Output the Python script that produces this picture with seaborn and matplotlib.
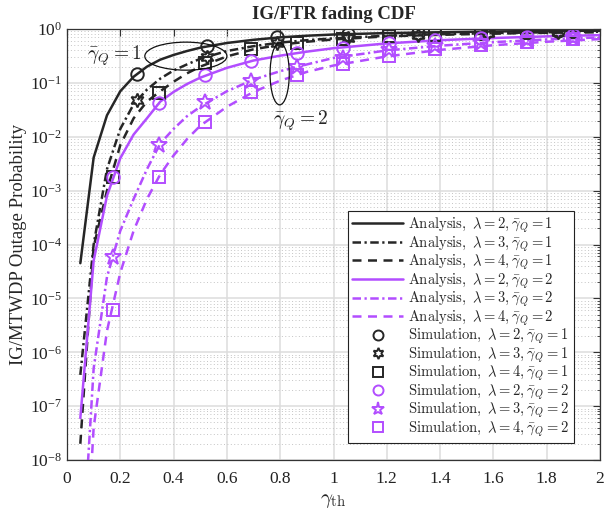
import numpy as np
import pandas as pd
import matplotlib
matplotlib.use("Agg")
import matplotlib.pyplot as plt
import seaborn as sns
from matplotlib.lines import Line2D
from matplotlib.patches import Ellipse
from matplotlib.ticker import FuncFormatter, LogLocator, FixedLocator

# ---------------- data ----------------
x_ana = [0.05, 0.1, 0.15, 0.2, 0.25, 0.3, 0.35, 0.4, 0.45, 0.5,
         0.6, 0.7, 0.8, 0.9, 1.0, 1.2, 1.4, 1.6, 1.8, 2.0]
ana_l2_q1 = [4.5e-5, 4.1e-3, 0.025, 0.07, 0.13, 0.2, 0.27, 0.33, 0.39, 0.45,
             0.55, 0.63, 0.7, 0.75, 0.79, 0.84, 0.87, 0.9, 0.92, 0.93]
ana_l3_q1 = [3.8e-7, 1e-4, 2.5e-3, 0.014, 0.04, 0.075, 0.12, 0.17, 0.22, 0.28,
             0.39, 0.48, 0.56, 0.62, 0.67, 0.75, 0.8, 0.84, 0.87, 0.89]
ana_l4_q1 = [2e-8, 9e-5, 1e-3, 7e-3, 0.022, 0.045, 0.07, 0.105, 0.15, 0.2,
             0.31, 0.42, 0.51, 0.58, 0.64, 0.73, 0.78, 0.82, 0.85, 0.87]
ana_l2_q2 = [6e-8, 5e-5, 8e-4, 4e-3, 0.011, 0.022, 0.045, 0.068, 0.095, 0.125,
             0.19, 0.26, 0.32, 0.38, 0.44, 0.54, 0.62, 0.68, 0.73, 0.77]
ana_l3_q2 = [4e-11, 5e-7, 2.5e-5, 1.8e-4, 7e-4, 2.5e-3, 7.5e-3, 0.014, 0.024, 0.036,
             0.07, 0.115, 0.165, 0.22, 0.29, 0.4, 0.49, 0.57, 0.64, 0.7]
ana_l4_q2 = [2e-12, 4e-8, 2.5e-6, 3e-5, 1.8e-4, 7e-4, 2e-3, 4.5e-3, 9e-3, 0.016,
             0.036, 0.068, 0.11, 0.16, 0.21, 0.31, 0.41, 0.5, 0.58, 0.65]

sim_x_coarse = [0.263, 0.526, 0.789, 1.053, 1.316, 1.579, 1.842]
sim_x_fine = [0.173, 0.345, 0.518, 0.69, 0.863, 1.036, 1.208, 1.381, 1.553, 1.726, 1.9]
sim_l2_q1 = [0.146, 0.48, 0.7, 0.8, 0.86, 0.9, 0.92]
sim_l3_q1 = [0.048, 0.3, 0.55, 0.69, 0.78, 0.84, 0.87]
sim_l4_q1 = [1.8e-3, 0.066, 0.23, 0.43, 0.56, 0.65, 0.73, 0.78, 0.82, 0.85, 0.87]
sim_l2_q2 = [1.8e-3, 0.043, 0.14, 0.26, 0.36, 0.45, 0.54, 0.62, 0.67, 0.72, 0.76]
sim_l3_q2 = [5.8e-5, 7e-3, 0.044, 0.11, 0.2, 0.29, 0.4, 0.49, 0.56, 0.63, 0.69]
sim_l4_q2 = [6e-6, 1.8e-3, 0.019, 0.068, 0.14, 0.22, 0.32, 0.42, 0.5, 0.57, 0.64]

x_ticks = [0, 0.2, 0.4, 0.6, 0.8, 1.0, 1.2, 1.4, 1.6, 1.8, 2.0]

# ---------------- style ----------------
sns.set_theme(style="white")
plt.rcParams["font.family"] = ["Liberation Serif", "DejaVu Serif"]
plt.rcParams["mathtext.fontset"] = "cm"
plt.rcParams["axes.unicode_minus"] = False

BLACK = "#262626"
PURPLE = "#B24DFF"
LW = 1.8
SOLID = "-"
DASHDOT = (0, (3.4, 1.4, 0.9, 1.4))
DASHED = (0, (3.6, 2.6))

fig = plt.figure(figsize=(6.05, 5.14), dpi=100)
ax = fig.add_axes([67 / 605, 1 - 460 / 514, 533 / 605, 431 / 514])
ax.set_yscale("log")

ana = [
    (ana_l2_q1, BLACK, SOLID, 2, 1),
    (ana_l3_q1, BLACK, DASHDOT, 3, 1),
    (ana_l4_q1, BLACK, DASHED, 4, 1),
    (ana_l2_q2, PURPLE, SOLID, 2, 2),
    (ana_l3_q2, PURPLE, DASHDOT, 3, 2),
    (ana_l4_q2, PURPLE, DASHED, 4, 2),
]
handles = []
for ys, c, ls, lam, q in ana:
    df = pd.DataFrame({"x": x_ana, "y": ys})
    sns.lineplot(data=df, x="x", y="y", ax=ax, color=c, linewidth=LW,
                 linestyle=ls, estimator=None, sort=False)
    handles.append((Line2D([], [], color=c, lw=LW, linestyle=ls),
                    r"$\mathrm{Analysis,}\ \lambda = %d, \bar{\gamma}_Q = %d$" % (lam, q)))

hexagram = (6, 1, 0)
sims = [
    (sim_x_coarse, sim_l2_q1, BLACK, "o", 9, 2, 1),
    (sim_x_coarse, sim_l3_q1, BLACK, hexagram, 10, 3, 1),
    (sim_x_fine, sim_l4_q1, BLACK, "s", 8.5, 4, 1),
    (sim_x_fine, sim_l2_q2, PURPLE, "o", 9, 2, 2),
    (sim_x_fine, sim_l3_q2, PURPLE, "*", 12, 3, 2),
    (sim_x_fine, sim_l4_q2, PURPLE, "s", 8.5, 4, 2),
]
for xs, ys, c, m, ms, lam, q in sims:
    df = pd.DataFrame({"x": xs, "y": ys})
    sns.lineplot(data=df, x="x", y="y", ax=ax, color=c, linestyle="",
                 marker=m, markersize=ms, markerfacecolor="none",
                 markeredgecolor=c, markeredgewidth=1.4, estimator=None, sort=False)
    handles.append((Line2D([], [], color=c, linestyle="", marker=m,
                           markersize=ms * 0.8, markerfacecolor="none",
                           markeredgecolor=c, markeredgewidth=1.4),
                    r"$\mathrm{Simulation,}\ \lambda = %d, \bar{\gamma}_Q = %d$" % (lam, q)))

ax.set_xlim(0, 2)
ax.set_ylim(1e-8, 1)
ax.xaxis.set_major_locator(FixedLocator(x_ticks))
ax.xaxis.set_major_formatter(FuncFormatter(lambda v, p: "%g" % v))
ax.yaxis.set_major_locator(LogLocator(base=10, numticks=20))
ax.yaxis.set_minor_locator(LogLocator(base=10, subs=np.arange(2, 10), numticks=20))

ax.grid(True, which="major", color="#DDDDDD", linewidth=1.1, linestyle="-")
ax.grid(True, which="minor", axis="y", color="#C4C4C4", linewidth=0.7, linestyle=(0, (1, 2.5)))
ax.set_axisbelow(True)

ax.tick_params(which="both", direction="in", top=True, right=True,
               colors="#333333", labelcolor="#222222")
ax.tick_params(which="major", length=5, width=0.8, labelsize=12.5)
ax.tick_params(which="minor", length=2.5, width=0.6)
ax.tick_params(axis="x", pad=8)
for s in ax.spines.values():
    s.set_color("#333333")
    s.set_linewidth(0.9)

ax.set_xlabel(r"$\gamma_{\rm th}$", fontsize=15, labelpad=3)
ax.set_ylabel("IG/MTWDP Outage Probability", fontsize=13.5, labelpad=2)
ax.set_title("IG/FTR fading CDF", fontsize=13.5, fontweight="bold", pad=7)

# annotations
ax.add_patch(Ellipse((0.223, 0.937), 0.154, 0.065, transform=ax.transAxes,
                     fill=False, edgecolor="#111111", linewidth=0.9, zorder=5))
ax.add_patch(Ellipse((0.399, 0.896), 0.036, 0.144, transform=ax.transAxes,
                     fill=False, edgecolor="#111111", linewidth=0.9, zorder=5))
ax.text(0.038, 0.938, r"$\bar{\gamma}_Q = 1$", transform=ax.transAxes,
        fontsize=14, ha="left", va="center")
ax.text(0.386, 0.788, r"$\bar{\gamma}_Q = 2$", transform=ax.transAxes,
        fontsize=14, ha="left", va="center")

leg = ax.legend([h for h, _ in handles], [l for _, l in handles],
                loc="upper left", bbox_to_anchor=(0.527, 0.577),
                fontsize=10.5, handlelength=3.5, handletextpad=0.35,
                labelspacing=-0.06, borderpad=0.3, borderaxespad=0,
                fancybox=False, framealpha=1, edgecolor="#222222")
leg.get_frame().set_linewidth(0.8)

fig.savefig("out.png", dpi=100)
